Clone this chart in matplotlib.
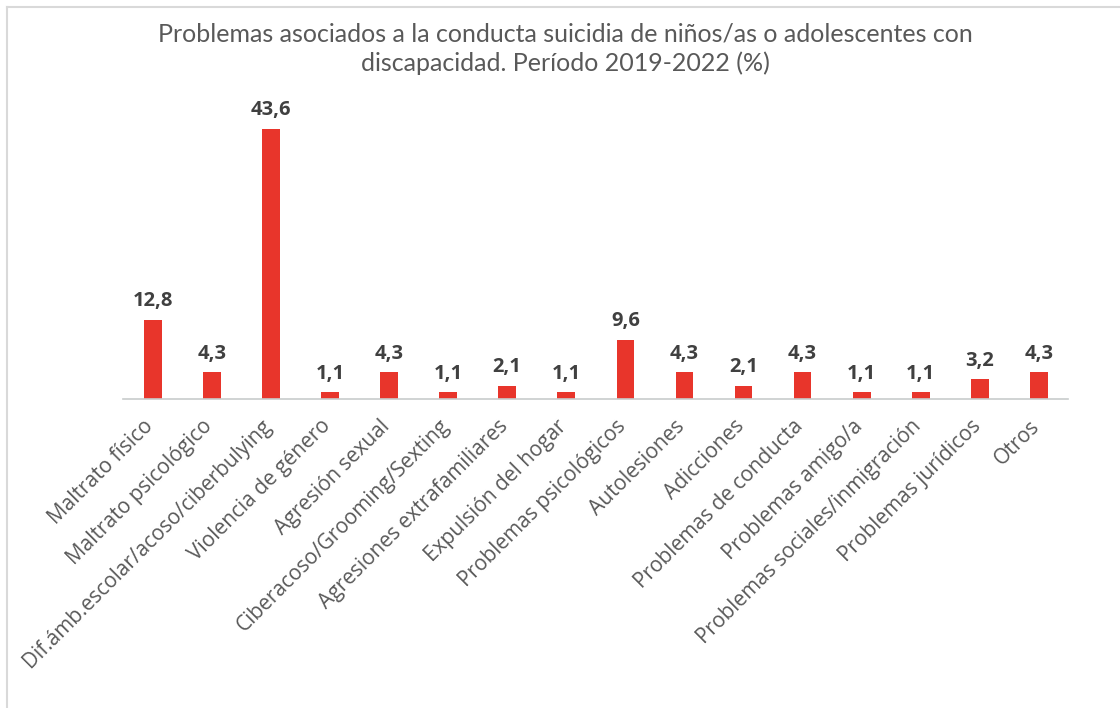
import matplotlib
matplotlib.use('Agg')
import matplotlib.pyplot as plt
import matplotlib.transforms as mtransforms
from matplotlib.lines import Line2D

# ── Data ──
categories = [
    "Maltrato físico", "Maltrato psicológico", "Dif.ámb.escolar/acoso/ciberbulying",
    "Violencia de género", "Agresión sexual", "Ciberacoso/Grooming/Sexting",
    "Agresiones extrafamiliares", "Expulsión del hogar", "Problemas psicológicos",
    "Autolesiones", "Adicciones", "Problemas de conducta", "Problemas amigo/a",
    "Problemas sociales/inmigración", "Problemas jurídicos", "Otros",
]
values = [12.8, 4.3, 43.6, 1.1, 4.3, 1.1, 2.1, 1.1, 9.6, 4.3, 2.1, 4.3, 1.1, 1.1, 3.2, 4.3]

title = ("Problemas asociados a la conducta suicidia de niños/as o adolescentes con\n"
         "discapacidad. Período 2019-2022 (%)")

BAR_COLOR = '#E8352B'
TEXT_GRAY = '#595959'
LABEL_GRAY = '#404040'

plt.rcParams['font.family'] = ['Lato', 'DejaVu Sans']

fig = plt.figure(figsize=(11.2, 7.08), dpi=100)
ax = fig.add_axes([0.110, 0.4364, 0.844, 0.4379])

x = range(len(categories))
bars = ax.bar(x, values, width=0.3, color=BAR_COLOR, zorder=2)

for b, v in zip(bars, values):
    ax.text(b.get_x() + b.get_width() / 2, v + 1.4, f"{v:.1f}".replace('.', ','),
            ha='center', va='bottom', fontsize=14.5, fontweight='bold',
            color=LABEL_GRAY, family=['Open Sans', 'DejaVu Sans'])

ax.set_xlim(-0.5, len(categories) - 0.5)
ax.set_ylim(0, 50)
ax.set_xticks(list(x))
ax.set_xticklabels(categories, rotation=45, ha='right', rotation_mode='anchor',
                   fontsize=15, color=TEXT_GRAY, family=['Open Sans', 'DejaVu Sans'])
ax.tick_params(axis='x', length=0, pad=12)
shift = mtransforms.ScaledTranslation(-7 / 72, 0, fig.dpi_scale_trans)
for lbl in ax.get_xticklabels():
    lbl.set_transform(lbl.get_transform() + shift)
ax.set_yticks([])
for s in ['top', 'right', 'left']:
    ax.spines[s].set_visible(False)
ax.spines['bottom'].set_color('#C8CCCC')
ax.spines['bottom'].set_linewidth(1.2)

fig.text(0.505, 0.968, title, ha='center', va='top', fontsize=18,
         color=TEXT_GRAY, linespacing=1.3)

# light frame (top and left edges visible)
fig.add_artist(Line2D([7 / 1120, 1], [1 - 7 / 708, 1 - 7 / 708], color='#D9D9D9', lw=1.5,
                      transform=fig.transFigure))
fig.add_artist(Line2D([7 / 1120, 7 / 1120], [0, 1 - 7 / 708], color='#D9D9D9', lw=1.5,
                      transform=fig.transFigure))

fig.savefig('out.png', dpi=100)
